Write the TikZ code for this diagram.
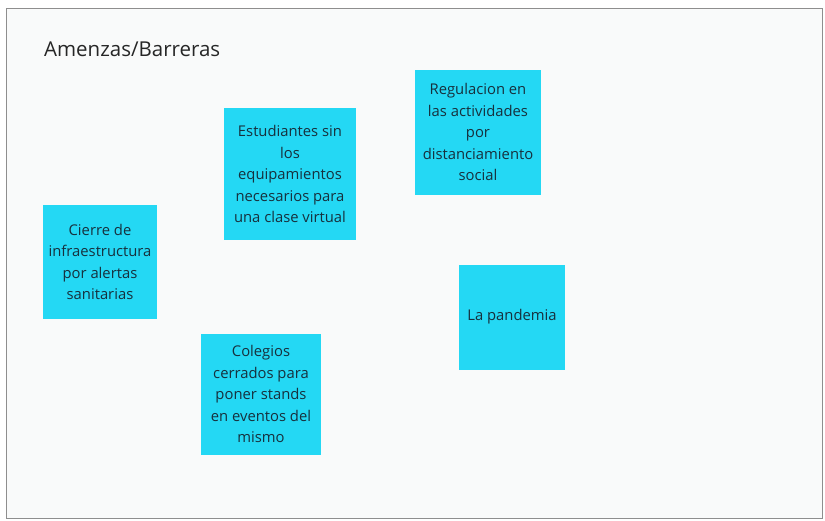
\documentclass[tikz,border=0pt]{standalone}
\usepackage{fontspec}
\setmainfont{Open Sans}
\usepackage{xcolor}
\usetikzlibrary{positioning}
\definecolor{notecyan}{HTML}{24D8F4}
\definecolor{notetext}{HTML}{17303D}
\definecolor{boardbg}{HTML}{F9FAFA}
\definecolor{boardline}{HTML}{8E8E8E}

\begin{document}
\begin{tikzpicture}[
  x=1pt, y=-1pt,
  note/.style={fill=notecyan, inner sep=0pt, align=center,
               text=notetext, font=\fontsize{14.8}{21.5}\selectfont},
  title/.style={anchor=base west, font=\fontsize{20.5}{22}\selectfont,
                text=black!85}
]
\useasboundingbox (0,0) rectangle (825,520);

%% --- tablero ---
\draw[boardline, fill=boardbg, line width=1pt] (6,8) rectangle (822,518);
\node[title, inner sep=0pt] (titulo) at (44,56) {Amenzas/Barreras};

%% --- notas ---
\node[note, minimum width=132pt, minimum height=132pt] (estudiantes)
  at (290,174)
  {Estudiantes sin\\los\\equipamientos\\necesarios para\\una clase virtual};
\node[note, minimum width=126pt, minimum height=125pt] (regulacion)
  at (478,132)
  {Regulacion en\\las actividades\\por\\distanciamiento\\social};
\node[note, minimum width=114pt, minimum height=114pt] (cierre)
  at (100,262)
  {Cierre de\\infraestructura\\por alertas\\sanitarias};
\node[note, minimum width=106pt, minimum height=105pt] (pandemia)
  at (512,317)
  {La pandemia};
\node[note, minimum width=120pt, minimum height=121pt] (colegios)
  at (261,394)
  {Colegios\\cerrados para\\poner stands\\en eventos del\\mismo};
\end{tikzpicture}
\end{document}
